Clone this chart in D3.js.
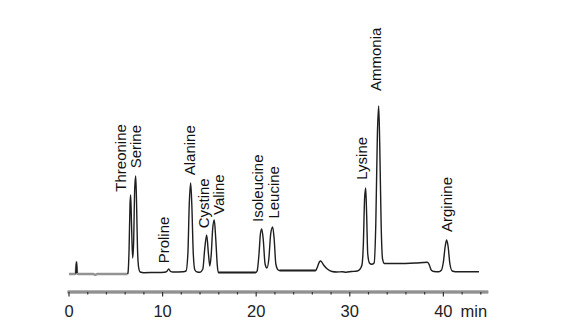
<!DOCTYPE html>
<html>
<head>
<meta charset="utf-8">
<script src="https://cdn.jsdelivr.net/npm/d3@7"></script>
<style>
  html, body { margin: 0; padding: 0; background: #fff; }
  svg { display: block; }
  text { font-family: "Liberation Sans", Arial, sans-serif; }
</style>
</head>
<body>
<svg id="chart" width="567" height="335"></svg>
<script>
// Chromatogram trace: [retention time (min), detector signal (a.u.)]
const trace = [
  [0.0, 0], [0.6, 0], [0.72, 0.5], [0.8, 12], [0.86, 1], [1.0, 0],
  [2.6, 0], [2.8, -0.8], [3.0, 0], [6.25, 0],
  [6.3, 1], [6.42, 25], [6.52, 70], [6.59, 79], [6.68, 50], [6.8, 16],
  [6.9, 30], [7.02, 85], [7.13, 98], [7.22, 70], [7.32, 25], [7.45, 6], [7.6, 2],
  [8.0, 1.3], [9.0, 1.5], [10.2, 1.8], [10.45, 2.6], [10.65, 5], [10.85, 2.6],
  [11.1, 2], [12.2, 2.3], [12.5, 3], [12.7, 20], [12.85, 70], [13.0, 91],
  [13.12, 70], [13.28, 20], [13.45, 4], [13.7, 2], [14.0, 1.8], [14.3, 5],
  [14.5, 25], [14.71, 39], [14.9, 20], [15.05, 8], [15.2, 20], [15.35, 45],
  [15.52, 54], [15.68, 35], [15.85, 8], [15.95, 1.5],
  [19.95, 1.5], [20.1, 3], [20.3, 20], [20.45, 40], [20.59, 45], [20.75, 35],
  [20.95, 10], [21.15, 6], [21.35, 15], [21.55, 40], [21.76, 47], [21.92, 35],
  [22.1, 10], [22.35, 4], [22.5, 3.5],
  [26.35, 3.5], [26.5, 6], [26.75, 12], [26.9, 13], [27.2, 9], [27.6, 5],
  [28.1, 2.5], [28.6, 2], [29.2, 2.3], [29.6, 1.8], [30.2, 2.5], [30.8, 3],
  [31.1, 5], [31.3, 9], [31.45, 30], [31.58, 75], [31.7, 86], [31.8, 60],
  [31.92, 20], [32.1, 11], [32.34, 9.7], [32.6, 11], [32.78, 50], [32.95, 140],
  [33.09, 168], [33.2, 130], [33.35, 50], [33.5, 15], [33.7, 10.5], [35.0, 10.5],
  [37.0, 11], [38.3, 11.7], [38.5, 9], [38.7, 4], [39.0, 2.5], [39.5, 2.2],
  [39.8, 4], [40.0, 12], [40.2, 28], [40.35, 34], [40.5, 28], [40.7, 10],
  [40.95, 3], [41.3, 2.3], [43.8, 2.3]
];

// Stretches of the baseline recorded in grey
const greyRanges = [[0, 6.25], [15.95, 19.95], [22.5, 26.35]];

// Peak identities and their retention times (min)
const peakNames = ["Threonine", "Serine", "Proline", "Alanine", "Cystine", "Valine",
                   "Isoleucine", "Leucine", "Lysine", "Ammonia", "Arginine"];
const peakTimes = [6.59, 7.13, 10.65, 13.0, 14.71, 15.52, 20.59, 21.76, 31.7, 33.09, 40.35];

// Time axis
const majorTicks = [0, 10, 20, 30, 40];
const minorTicks = d3.range(0, 45, 2);
const axisUnit = "min";

// Label placement relative to each peak apex: [dx px, gap px]
const labelLayout = [[-5, 3.3], [5.3, 7.7], [0.7, 5.7], [4.3, 7.7], [2.6, 6.7], [9.7, 5],
                     [1, 7], [6.6, 8.4], [1.6, 8.3], [2.3, 15], [5, 8]];

const svg = d3.select("#chart");

const x = d3.scaleLinear().domain([0, 44.8]).range([69, 488.3]);
const y = d3.scaleLinear().domain([0, 168]).range([274, 106]);

const inGrey = t => greyRanges.some(([a, b]) => t > a && t < b);
const line = d3.line().x(d => x(d[0])).y(d => y(d[1])).curve(d3.curveMonotoneX);

// Grey baseline pieces
greyRanges.forEach(([a, b]) => {
  svg.append("path")
    .datum(trace.filter(d => d[0] >= a && d[0] <= b))
    .attr("d", line)
    .attr("fill", "none")
    .attr("stroke", "#939393")
    .attr("stroke-width", 2.4);
});

// Black detector trace
svg.append("path")
  .datum(trace)
  .attr("d", line.defined(d => !inGrey(d[0]) || d[1] > 0.3))
  .attr("fill", "none")
  .attr("stroke", "#1e1e1e")
  .attr("stroke-width", 1.4)
  .attr("stroke-linejoin", "round");

// Peak labels
const apex = t => {
  const i = d3.bisector(d => d[0]).center(trace, t);
  return trace[i][1];
};
peakNames.forEach((name, i) => {
  const px = x(peakTimes[i]) + labelLayout[i][0];
  const py = y(apex(peakTimes[i])) - labelLayout[i][1];
  svg.append("text")
    .attr("transform", `translate(${px},${py}) rotate(-90)`)
    .attr("font-size", 15)
    .attr("fill", "#111")
    .text(name);
});

// Time axis
const axisY = 292;
const ax = svg.append("g");
ax.append("line")
  .attr("x1", x(0) - 1.5).attr("x2", x(44.8))
  .attr("y1", axisY).attr("y2", axisY)
  .attr("stroke", "#6a6a6a").attr("stroke-width", 3);
ax.append("line")
  .attr("x1", x(0) - 1.5).attr("x2", x(44.8))
  .attr("y1", axisY).attr("y2", axisY)
  .attr("stroke", "#b8b8b8").attr("stroke-width", 1);

ax.selectAll(".minor").data(minorTicks).join("line")
  .attr("x1", d => x(d)).attr("x2", d => x(d))
  .attr("y1", axisY).attr("y2", d => axisY + (d % 10 === 0 ? 4.5 : 2.5))
  .attr("stroke", "#333").attr("stroke-width", 1.2);

ax.selectAll(".lab").data(majorTicks).join("text")
  .attr("x", d => x(d)).attr("y", 316.5)
  .attr("text-anchor", "middle")
  .attr("font-size", 16.5)
  .attr("fill", "#222")
  .text(d => d);

ax.append("text")
  .attr("x", 460.5).attr("y", 316.5)
  .attr("font-size", 16.5)
  .attr("fill", "#222")
  .text(axisUnit);
</script>
</body>
</html>
